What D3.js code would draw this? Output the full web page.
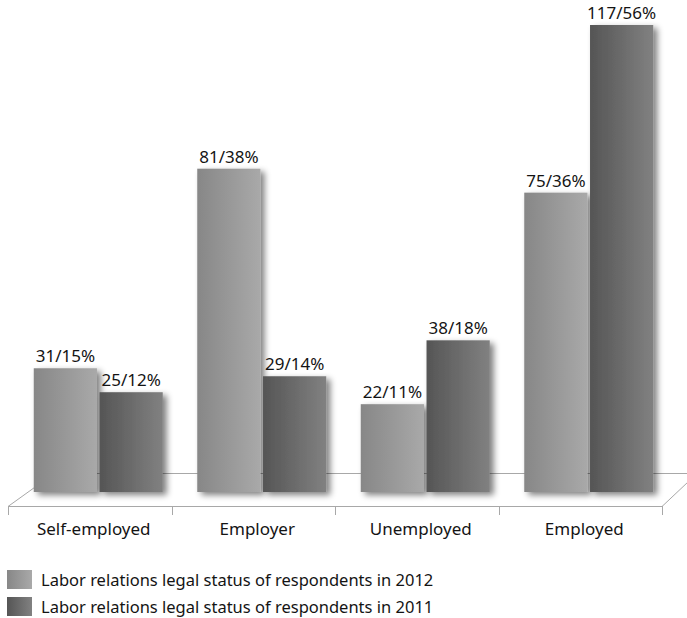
<!DOCTYPE html>
<html>
<head>
<meta charset="utf-8">
<script src="https://cdn.jsdelivr.net/npm/d3@7"></script>
<style>
  html, body { margin: 0; padding: 0; background: #fff; }
  svg { display: block; font-family: "Noto Sans", "Open Sans", sans-serif; }
</style>
</head>
<body>
<svg id="chart" width="687" height="618"></svg>
<script>
// Respondents by labour-relations status, counts and shares for two survey years
const categories = ["Self-employed", "Employer", "Unemployed", "Employed"];
const seriesNames = [
  "Labor relations legal status of respondents in 2012",
  "Labor relations legal status of respondents in 2011"
];
const values2012 = [31, 81, 22, 75];
const values2011 = [25, 29, 38, 117];
const shares2012 = [15, 38, 11, 36];
const shares2011 = [12, 14, 18, 56];

const series = [
  { key: "y2012", name: seriesNames[0], values: values2012, shares: shares2012 },
  { key: "y2011", name: seriesNames[1], values: values2011, shares: shares2011 }
];

const svg = d3.select("#chart");
const defs = svg.append("defs");

// Horizontal shading across each bar
const shades = {
  y2012: ["#878787", "#a9a9a9"],
  y2011: ["#555555", "#818181"]
};
Object.entries(shades).forEach(([k, [c0, c1]]) => {
  const g = defs.append("linearGradient").attr("id", "grad-" + k)
    .attr("x1", "0%").attr("x2", "100%").attr("y1", "0%").attr("y2", "0%");
  g.append("stop").attr("offset", "0%").attr("stop-color", c0);
  g.append("stop").attr("offset", "100%").attr("stop-color", c1);
});

// Soft cast shadow for the bars
const f = defs.append("filter").attr("id", "shadow")
  .attr("x", "-20%").attr("y", "-10%").attr("width", "160%").attr("height", "130%");
f.append("feGaussianBlur").attr("in", "SourceAlpha").attr("stdDeviation", 3).attr("result", "blur");
f.append("feOffset").attr("in", "blur").attr("dx", 4).attr("dy", 3).attr("result", "off");
f.append("feComponentTransfer").attr("in", "off").attr("result", "shade")
  .append("feFuncA").attr("type", "linear").attr("slope", 0.5);
const merge = f.append("feMerge");
merge.append("feMergeNode").attr("in", "shade");
merge.append("feMergeNode").attr("in", "SourceGraphic");

// Scales: bars stand on the back edge of the floor, labels sit on the front edge
const baseY = 492;
const x = d3.scaleBand().domain(categories).range([16.5, 670.5]).padding(0);
const xFront = d3.scaleBand().domain(categories).range([8, 662]).padding(0);
const inner = d3.scaleBand().domain(series.map(s => s.key))
  .range([-64.5, 64.5]).paddingInner(5 / 129);
const y = d3.scaleLinear().domain([0, d3.max(values2011.concat(values2012))]).range([baseY, 25]);

// Floor parallelogram
const frontY = 506, backY = 473;
const floor = svg.append("g").attr("stroke", "#a8a8a8").attr("stroke-width", 1).attr("fill", "none");
floor.append("line").attr("x1", 8).attr("y1", frontY + 0.5).attr("x2", 662).attr("y2", frontY + 0.5);
floor.append("line").attr("x1", 54).attr("y1", backY + 0.5).attr("x2", 700).attr("y2", backY + 0.5);
floor.append("line").attr("x1", 8).attr("y1", frontY + 0.5).attr("x2", 54).attr("y2", backY + 0.5);
floor.append("line").attr("x1", 662).attr("y1", frontY + 0.5).attr("x2", 697).attr("y2", backY + 0.5);

// Category axis along the front edge
const axis = d3.axisBottom(xFront).tickSize(0).tickPadding(0);
const axisG = svg.append("g").attr("transform", `translate(0,${frontY})`).call(axis);
axisG.select(".domain").remove();
axisG.selectAll(".tick text")
  .attr("y", 29).attr("dy", 0).attr("x", 4)
  .attr("font-size", 17).attr("fill", "#141414").attr("font-family", "'Noto Sans', sans-serif");
const boundaries = categories.map(c => xFront(c)).concat([xFront.range()[1]]);
svg.append("g").selectAll("line").data(boundaries).join("line")
  .attr("x1", d => Math.round(d) + 0.5).attr("x2", d => Math.round(d) + 0.5)
  .attr("y1", frontY).attr("y2", frontY + 9)
  .attr("stroke", "#a8a8a8");

// Bars
const groups = svg.append("g").selectAll("g").data(categories).join("g")
  .attr("transform", c => `translate(${x(c) + x.bandwidth() / 2},0)`);

const cells = groups.selectAll("g.cell")
  .data((c, i) => series.map(s => ({ key: s.key, v: s.values[i], p: s.shares[i] })))
  .join("g").attr("class", "cell");

cells.append("rect")
  .attr("x", d => inner(d.key))
  .attr("width", inner.bandwidth())
  .attr("y", d => y(d.v))
  .attr("height", d => baseY - y(d.v))
  .attr("fill", d => `url(#grad-${d.key})`)
  .attr("filter", "url(#shadow)");

cells.append("text")
  .attr("x", d => inner(d.key) + inner.bandwidth() / 2)
  .attr("y", d => y(d.v) - 6)
  .attr("text-anchor", "middle")
  .attr("font-size", 17)
  .attr("fill", "#141414")
  .text(d => `${d.v}/${d.p}%`);

// Legend
const legend = svg.append("g").selectAll("g").data(series).join("g")
  .attr("transform", (d, i) => `translate(7,${570 + i * 27})`);
legend.append("rect")
  .attr("width", 25).attr("height", 19)
  .attr("fill", d => `url(#grad-${d.key})`);
legend.append("text")
  .attr("x", 34).attr("y", 16)
  .attr("font-size", 16.5)
  .attr("fill", "#141414")
  .text(d => d.name);
</script>
</body>
</html>
